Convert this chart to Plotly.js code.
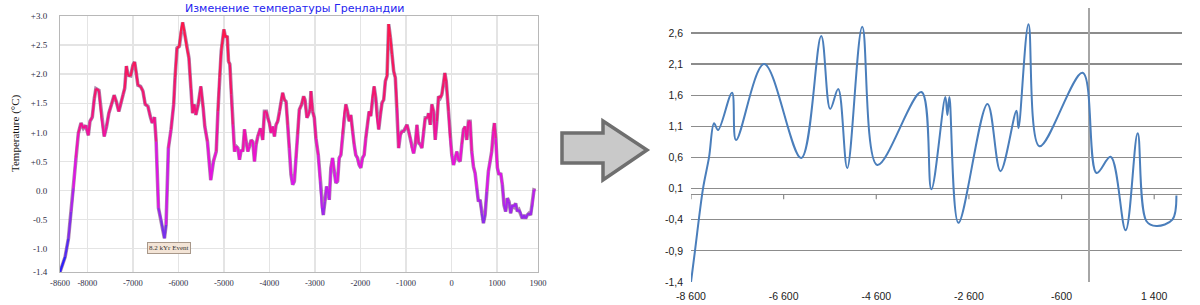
<!DOCTYPE html>
<html><head><meta charset="utf-8">
<script src="https://cdn.plot.ly/plotly-3.0.1.min.js"></script>
<style>html,body{margin:0;padding:0;background:#fff}#chart{width:1200px;height:305px}</style>
</head><body><div id="chart"></div><script>
// ---- Left chart: Greenland temperature (reconstruction) ----
const leftYears = [-8600,-8487,-8414,-8356,-8305,-8254,-8196,-8138,-8087,-8036,-7978,-7942,-7891,-7847,-7811,-7745,-7687,-7629,-7578,-7527,-7469,-7411,-7360,-7309,-7265,-7215,-7178,-7142,-7106,-7048,-6997,-6960,-6924,-6888,-6830,-6779,-6728,-6670,-6612,-6575,-6524,-6488,-6437,-6379,-6306,-6270,-6219,-6161,-6103,-6073,-6030,-5979,-5943,-5906,-5870,-5812,-5768,-5724,-5688,-5652,-5615,-5564,-5506,-5455,-5419,-5361,-5288,-5230,-5168,-5131,-5095,-5058,-5000,
-4964,-4927,-4898,-4869,-4839,-4803,-4766,-4730,-4693,-4657,-4620,-4584,-4547,-4511,-4474,-4438,-4401,-4365,-4328,-4292,-4255,-4197,-4146,-4109,-4066,-4036,-4000,-3963,-3927,-3890,-3854,-3817,-3774,-3745,-3708,-3672,-3635,-3598,-3562,-3525,-3489,-3452,-3416,-3379,-3343,-3292,-3248,-3219,-3175,-3146,-3109,-3087,-3051,-3014,-2978,-2927,-2883,-2847,-2817,-2781,-2744,-2708,-2686,-2649,-2613,-2576,-2540,-2503,-2467,-2430,-2394,-2357,-2321,-2284,-2248,-2211,-2175,-2138,-2102,-2065,-2029,-1992,-1956,-1919,-1883,-1846,-1810,-1773,-1737,-1700,-1664,
-1635,-1599,-1562,-1526,-1489,-1453,-1416,-1380,-1343,-1307,-1270,-1234,-1197,-1161,-1124,-1088,-1051,-1015,-978,-942,-905,-869,-832,-796,-759,-723,-686,-650,-613,-577,-526,-504,-467,-431,-394,-358,-321,-285,-248,-212,-175,-146,-117,-88,-66,-29,7,44,80,117,153,190,226,263,299,336,372,409,445,482,518,555,591,628,664,701,737,774,810,847,883,920,942,971,1008,1044,1081,1117,1154,1190,1227,1263,1300,1336,1373,1409,1446,1482,1519,1555,1592,1628,1665,1701,1738,1774,1811,1845];
const leftTemp = [-1.40,-1.14,-0.82,-0.36,0.04,0.56,0.99,1.16,1.07,1.12,0.95,1.19,1.26,1.58,1.75,1.72,1.25,0.93,1.10,1.33,1.48,1.64,1.52,1.36,1.49,1.65,1.76,2.14,1.98,1.97,2.16,2.21,2.02,1.81,1.79,1.71,1.48,1.45,1.26,1.16,1.26,0.84,-0.30,-0.51,-0.82,-0.59,0.73,1.05,1.48,1.94,2.45,2.48,2.74,2.89,2.74,2.45,2.28,1.76,1.33,1.48,1.30,1.48,1.79,1.42,1.10,0.84,0.18,0.50,0.67,1.36,1.94,2.40,2.77,
2.63,2.66,2.22,2.17,1.65,1.13,0.67,0.76,0.73,0.53,0.70,0.67,1.05,0.84,0.67,0.76,0.87,0.84,0.50,0.79,0.93,1.07,0.87,1.36,1.36,1.25,1.16,0.99,1.10,0.93,1.13,1.19,1.36,1.53,1.68,1.56,1.53,1.13,0.73,0.27,0.10,0.16,0.56,0.96,1.39,1.48,1.62,1.56,1.25,1.30,1.39,1.71,1.36,1.25,0.90,0.61,0.16,-0.30,-0.42,-0.19,0.07,-0.02,-0.16,0.39,0.56,0.33,0.13,0.16,0.56,0.61,0.96,1.30,1.48,1.36,1.19,1.30,1.02,0.79,0.61,0.56,0.44,0.39,0.56,0.61,0.90,1.13,1.36,1.28,1.59,1.79,1.59,
1.25,1.05,1.30,1.51,1.56,1.88,1.97,2.86,2.63,2.34,2.05,1.94,1.42,0.73,0.96,1.02,1.02,1.07,1.13,1.02,0.90,0.73,0.64,0.79,1.13,0.82,0.79,0.73,1.02,1.25,1.25,1.33,1.13,1.48,1.36,0.87,1.19,1.62,1.59,1.65,1.85,2.02,1.88,1.59,1.36,0.90,0.61,0.44,0.56,0.67,0.53,0.50,0.79,1.05,1.10,0.87,1.19,1.19,0.67,0.41,0.30,0.04,-0.19,-0.16,-0.39,-0.56,-0.42,-0.02,0.33,0.50,0.67,1.02,1.16,0.90,0.39,0.27,0.30,0.10,-0.25,-0.36,-0.13,-0.19,-0.39,-0.25,-0.28,-0.22,-0.36,-0.33,-0.39,-0.48,-0.42,-0.48,-0.42,-0.39,-0.42,-0.25,0.01,0.00];
const leftXTickVals = [-8600,-8000,-7000,-6000,-5000,-4000,-3000,-2000,-1000,0,1000,1900];
const leftXTickText = ["-8600","-8000","-7000","-6000","-5000","-4000","-3000","-2000","-1000","0","1000","1900"];
const leftYTickVals = [-1.4,-1.0,-0.5,0,0.5,1.0,1.5,2.0,2.5,3.0];
const leftYTickText = ["-1.4","-1.0","-0.5","0.0","+0.5","+1.0","+1.5","+2.0","+2.5","+3.0"];
const leftTitle = "Изменение температуры Гренландии";
const leftYTitle = "Temperature (°C)";
const eventLabel = "8.2 kYr Event";
const eventYear = [-6200];
const eventTemp = [-0.99];

// ---- Right chart: smoothed copy ----
const rightYears = [-8600,-8514,-8341,-8211,-8103,-8016,-7714,-7627,-7022,-6222,-5789,-5595,-5422,-5227,-4903,-4579,-3627,-3411,-3109,-3065,-3022,-2827,-2200,-1919,-1573,-1530,-1314,-1076,-147,156,459,783,1043,1230,1446,1793,1879];
const rightTemp = [-1.40,-0.90,0.10,0.60,1.15,1.04,1.64,0.88,2.10,0.59,2.55,1.38,1.70,0.43,2.70,0.48,1.65,0.09,1.57,1.28,1.57,-0.45,1.46,0.38,1.35,1.07,2.74,0.78,1.96,0.35,0.61,-0.57,0.99,-0.42,-0.50,-0.40,-0.01];
const rightXTickVals = [-8600,-6600,-4600,-2600,-600,1400];
const rightXTickText = ["-8 600","-6 600","-4 600","-2 600","-600","1 400"];
const rightYTickVals = [-1.4,-0.9,-0.4,0.1,0.6,1.1,1.6,2.1,2.6];
const rightYTickText = ["-1,4","-0,9","-0,4","0,1","0,6","1,1","1,6","2,1","2,6"];

// colour ramp for the left line (by temperature)
const rampStops = [[-1.4,[30,30,255]],[-0.8,[110,50,235]],[-0.3,[160,40,235]],[0.2,[220,22,235]],[0.7,[236,18,205]],[1.1,[240,20,145]],[1.6,[242,22,112]],[2.9,[255,24,70]]];
function rampColor(v){
  if (v <= rampStops[0][0]) return 'rgb('+rampStops[0][1].join(',')+')';
  for (let i=1;i<rampStops.length;i++){
    if (v <= rampStops[i][0]){
      const a=rampStops[i-1], b=rampStops[i], t=(v-a[0])/(b[0]-a[0]);
      const c=a[1].map((q,k)=>Math.round(q+(b[1][k]-q)*t));
      return 'rgb('+c.join(',')+')';
    }
  }
  return 'rgb('+rampStops[rampStops.length-1][1].join(',')+')';
}

const traces = [];
traces.push({x:leftYears,y:leftTemp,xaxis:'x',yaxis:'y',mode:'lines',
  line:{color:'rgba(105,35,105,0.55)',width:3.6},hoverinfo:'skip',showlegend:false});
const buckets = {};
for (let i=0;i<leftYears.length-1;i++){
  const mid=(leftTemp[i]+leftTemp[i+1])/2;
  const key=(Math.round(mid*10)/10).toFixed(1);
  if(!buckets[key]) buckets[key]={x:[],y:[]};
  buckets[key].x.push(leftYears[i],leftYears[i+1],null);
  buckets[key].y.push(leftTemp[i],leftTemp[i+1],null);
}
Object.keys(buckets).forEach(k=>{
  traces.push({x:buckets[k].x,y:buckets[k].y,xaxis:'x',yaxis:'y',mode:'lines',
    line:{color:rampColor(parseFloat(k)),width:2.2},connectgaps:false,hoverinfo:'skip',showlegend:false});
});
traces.push({x:rightYears,y:rightTemp,xaxis:'x2',yaxis:'y2',mode:'lines',
  line:{color:'#4a7ebb',width:2,shape:'spline',smoothing:1},hoverinfo:'skip',showlegend:false});

const W=1200,H=305;
const px=(v)=>v/W, py=(v)=>1-v/H;

const arrowPts=[[562,133],[603,133],[603,121],[647,150],[603,180],[603,163],[562,163]];
const arrowPath='M '+arrowPts.map(p=>px(p[0]).toFixed(5)+','+py(p[1]).toFixed(5)).join(' L ')+' Z';

const shapes=[{type:'path',xref:'paper',yref:'paper',path:arrowPath,fillcolor:'#c9c9c9',line:{color:'#6f6f6f',width:3.5}}];
rightXTickVals.forEach(v=>shapes.push({type:'line',xref:'x2',yref:'y2',x0:v,x1:v,y0:0,y1:-0.07,line:{color:'#8a8a8a',width:1.2}}));

const layout={
  width:W,height:H,margin:{l:0,r:0,t:0,b:0},paper_bgcolor:'#fff',plot_bgcolor:'#fff',
  showlegend:false,hovermode:false,
  xaxis:{domain:[px(60),px(538)],range:[-8600,1900],tickvals:leftXTickVals,ticktext:leftXTickText,
    showgrid:true,gridcolor:'#e4e4e4',gridwidth:1.5,zeroline:false,showline:true,linecolor:'#b8b8b8',linewidth:1,mirror:true,
    ticks:'',tickfont:{family:'Liberation Serif',size:8.5,color:'#2e2e44'},ticklabelstandoff:3,fixedrange:true},
  yaxis:{domain:[py(272),py(16)],range:[-1.4,3.0],tickvals:leftYTickVals,ticktext:leftYTickText,
    showgrid:true,gridcolor:'#e4e4e4',gridwidth:1.5,zeroline:false,showline:true,linecolor:'#b8b8b8',linewidth:1,mirror:true,
    ticks:'',tickfont:{family:'Liberation Serif',size:9,color:'#2e2e44'},ticklabelstandoff:10,fixedrange:true},
  xaxis2:{domain:[px(691),px(1182)],range:[-8600,2000],anchor:'y2',tickvals:rightXTickVals,ticktext:rightXTickText,
    showgrid:false,zeroline:true,zerolinecolor:'#a6a6a6',zerolinewidth:2,showline:false,ticks:'',
    tickfont:{family:'Liberation Sans',size:10.5,color:'#222'},ticklabelstandoff:6,fixedrange:true},
  yaxis2:{domain:[py(282),py(8)],range:[-1.4,3.0],anchor:'x2',tickvals:rightYTickVals,ticktext:rightYTickText,
    showgrid:true,gridcolor:'#8c8c8c',gridwidth:1.2,zeroline:true,zerolinecolor:'#8c8c8c',zerolinewidth:1.2,showline:false,ticks:'',
    tickfont:{family:'Liberation Sans',size:10.5,color:'#222'},ticklabelstandoff:7,fixedrange:true},
  shapes:shapes,
  annotations:[
    {xref:'paper',yref:'paper',x:px(294),y:py(8),text:leftTitle,showarrow:false,xanchor:'center',yanchor:'middle',
      font:{family:'DejaVu Sans',size:11,color:'#2424f0'}},
    {xref:'paper',yref:'paper',x:px(15),y:py(133),text:leftYTitle,showarrow:false,textangle:-90,xanchor:'center',yanchor:'middle',
      font:{family:'Liberation Serif',size:11,color:'#111'}},
    {xref:'x',yref:'y',x:eventYear[0],y:eventTemp[0],text:eventLabel,showarrow:false,
      font:{family:'Liberation Serif',size:7,color:'#333'},bgcolor:'#f3e4d6',bordercolor:'#a8988a',borderwidth:1,borderpad:1}
  ]
};
Plotly.newPlot('chart',traces,layout,{staticPlot:true,displayModeBar:false});
</script></body></html>
